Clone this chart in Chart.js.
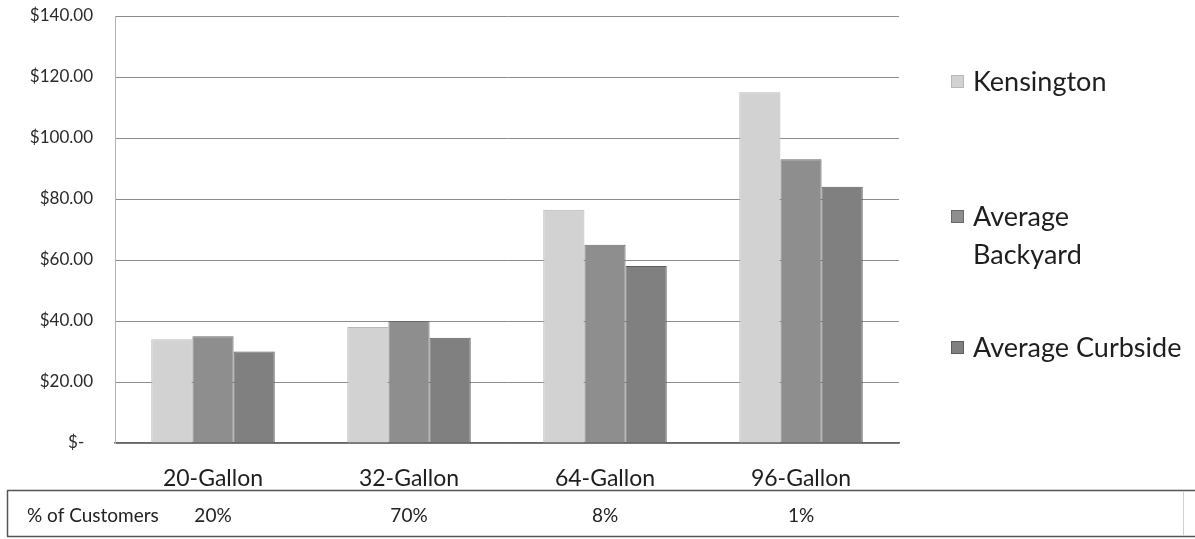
<!DOCTYPE html>
<html>
<head>
<meta charset="utf-8">
<script src="https://cdn.jsdelivr.net/npm/chart.js@4.4.0/dist/chart.umd.min.js"></script>
<style>
  html, body { margin: 0; padding: 0; background: #ffffff; }
  #wrap { width: 1195px; height: 539px; position: relative; }
</style>
</head>
<body>
<div id="wrap"><canvas id="c" width="1195" height="539"></canvas></div>
<script>
// Monthly cost by cart size
const categories = ['20-Gallon', '32-Gallon', '64-Gallon', '96-Gallon'];
const kensington = [34, 38, 76.5, 115];
const averageBackyard = [35, 40, 65, 93];
const averageCurbside = [30, 34.5, 58, 84];

// Share of customers per cart size (data table row)
const tableRowTitle = '% of Customers';
const customerShare = ['20%', '70%', '8%', '1%'];

// Value axis labels, accounting style
const yTickLabels = ['$-  ', '$20.00', '$40.00', '$60.00', '$80.00', '$100.00', '$120.00', '$140.00'];

// Legend text, one entry per series, split into lines
const seriesLines = [['Kensington'], ['Average', 'Backyard'], ['Average Curbside']];

const FONT = 'Lato, "Open Sans", sans-serif';
const fills = ['#d2d2d2', '#8e8e8e', '#808080'];
const edges = ['#b8b8b8', '#6a6a6a', '#5c5c5c'];

const sideLegend = {
  id: 'sideLegend',
  afterDraw(chart) {
    const ctx = chart.ctx;
    const firstLineY = [82, 217, 348];
    const lineGap = 38;
    ctx.save();
    ctx.font = '27px ' + FONT;
    ctx.textBaseline = 'middle';
    ctx.textAlign = 'left';
    chart.data.datasets.forEach((ds, i) => {
      const y = firstLineY[i];
      ctx.fillStyle = ds.backgroundColor;
      ctx.fillRect(951, y - 7, 13, 13);
      ctx.strokeStyle = ds.borderColor;
      ctx.lineWidth = 1;
      ctx.strokeRect(951.5, y - 6.5, 12, 12);
      ctx.fillStyle = '#1e1e1e';
      seriesLines[i].forEach((line, k) => ctx.fillText(line, 973, y + k * lineGap));
    });
    ctx.restore();
  }
};

const customerTable = {
  id: 'customerTable',
  afterDraw(chart) {
    const ctx = chart.ctx;
    const xs = chart.scales.x;
    ctx.save();
    ctx.strokeStyle = '#555555';
    ctx.lineWidth = 1.5;
    ctx.beginPath();
    ctx.moveTo(7, 490.5); ctx.lineTo(1195, 490.5);
    ctx.moveTo(7, 536.5); ctx.lineTo(1195, 536.5);
    ctx.moveTo(7.5, 490.5); ctx.lineTo(7.5, 536.5);
    ctx.stroke();
    ctx.strokeStyle = '#d0d0d0';
    ctx.lineWidth = 1;
    ctx.beginPath();
    ctx.moveTo(1183.5, 491); ctx.lineTo(1183.5, 536);
    ctx.stroke();
    ctx.font = '19px ' + FONT;
    ctx.fillStyle = '#222222';
    ctx.textBaseline = 'middle';
    ctx.textAlign = 'left';
    ctx.fillText(tableRowTitle, 27, 516);
    ctx.textAlign = 'center';
    customerShare.forEach((t, i) => ctx.fillText(t, xs.getPixelForValue(i), 516));
    ctx.restore();
  }
};

new Chart(document.getElementById('c'), {
  type: 'bar',
  data: {
    labels: categories,
    datasets: [
      { label: seriesLines[0].join(' '), data: kensington, backgroundColor: fills[0], borderColor: edges[0] },
      { label: seriesLines[1].join(' '), data: averageBackyard, backgroundColor: fills[1], borderColor: edges[1] },
      { label: seriesLines[2].join(' '), data: averageCurbside, backgroundColor: fills[2], borderColor: edges[2] }
    ]
  },
  options: {
    responsive: false,
    devicePixelRatio: 1,
    animation: false,
    layout: { padding: { top: 16, right: 296, bottom: 0, left: 0 } },
    datasets: {
      bar: { barPercentage: 1, categoryPercentage: 0.63, borderWidth: 1, borderSkipped: 'bottom' }
    },
    plugins: {
      legend: { display: false },
      tooltip: { enabled: false }
    },
    scales: {
      x: {
        grid: { display: false, drawTicks: false },
        border: { display: true, color: '#666666', width: 1.5 },
        ticks: { color: '#1e1e1e', font: { family: FONT, size: 23 }, padding: 22, maxRotation: 0 },
        afterFit(s) { s.height = 96; }
      },
      y: {
        min: 0,
        max: 140,
        grid: { color: '#8c8c8c', lineWidth: 1, drawTicks: false },
        border: { display: true, color: '#b5b5b5', width: 1 },
        ticks: {
          stepSize: 20,
          padding: 22,
          color: '#2a2a2a',
          font: { family: FONT, size: 17 },
          callback: v => yTickLabels[Math.round(v / 20)]
        },
        afterFit(s) {
          s.width = 115;
          // the label gap is horizontal only; keep it out of the vertical insets
          s.paddingTop = 0;
          s.paddingBottom = 0;
        }
      }
    }
  },
  plugins: [sideLegend, customerTable]
});
</script>
</body>
</html>
